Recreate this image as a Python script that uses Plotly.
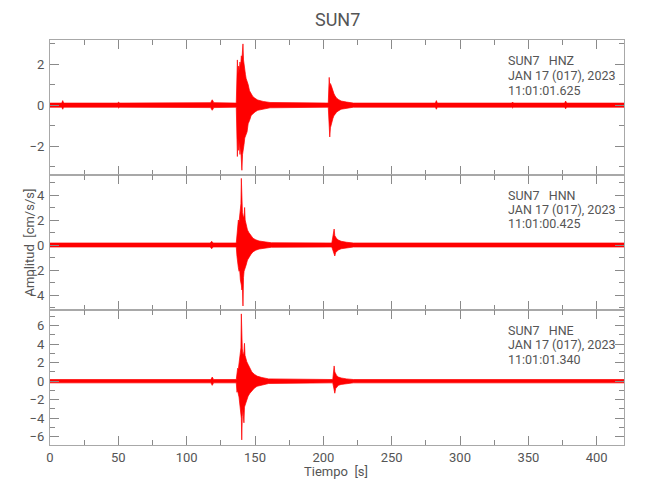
import plotly.graph_objects as go
from plotly.subplots import make_subplots

# ---------------- data (envelopes) ----------------
STATION = "SUN7"
CHANNELS = ["HNZ", "HNN", "HNE"]
DATE_TXT = "JAN 17 (017), 2023"
START_TIMES = ["11:01:01.625", "11:01:00.425", "11:01:01.340"]

T_HNZ = [0, 8.6, 9.3, 10.0, 49.5, 50.2, 51, 117.5, 118.7, 119.9, 136.3, 136.8, 137.1,
         137.5, 138.0, 138.5, 139.0, 139.5, 140.0, 140.4, 140.9, 141.2, 141.6, 142.0,
         142.5, 143.0, 143.5, 144.2, 145.0, 146.0, 147.2, 148.4, 150, 152, 156, 161,
         203.6, 204.0, 204.3, 204.7, 205.2, 205.8, 206.4, 207.0, 207.8, 208.6, 209.6,
         211, 213, 217, 222, 282.0, 282.7, 283.4, 337.8, 338.5, 339.2, 376.6, 377.3,
         378.0, 420]
UP_HNZ = [0.1, 0.1, 0.22, 0.1, 0.1, 0.15, 0.1, 0.12, 0.26, 0.12, 0.1, 1.0, 2.2,
          1.5, 1.9, 1.7, 2.1, 1.9, 2.4, 2.2, 2.6, 2.98, 2.2, 1.9,
          1.7, 1.5, 1.3, 1.2, 1.0, 0.7, 0.55, 0.42, 0.33, 0.25, 0.18, 0.13,
          0.1, 0.8, 1.35, 0.9, 1.05, 0.95, 0.8, 0.7, 0.55, 0.45, 0.35,
          0.28, 0.2, 0.15, 0.1, 0.1, 0.22, 0.1, 0.1, 0.15, 0.1, 0.1, 0.2,
          0.1, 0.1]
LO_HNZ = [-0.1, -0.1, -0.2, -0.1, -0.1, -0.14, -0.1, -0.12, -0.25, -0.12, -0.1, -1.2, -2.5,
          -1.6, -2.2, -1.8, -2.4, -2.0, -2.6, -3.17, -2.4, -2.2, -2.1, -1.9,
          -1.6, -1.5, -1.4, -1.3, -0.9, -0.75, -0.5, -0.42, -0.33, -0.25, -0.18, -0.13,
          -0.1, -0.7, -0.9, -1.55, -1.1, -0.95, -0.8, -0.65, -0.5, -0.45, -0.35,
          -0.28, -0.2, -0.15, -0.1, -0.1, -0.2, -0.1, -0.1, -0.14, -0.1, -0.1, -0.18,
          -0.1, -0.1]

T_HNN = [0, 117.3, 118.3, 119.3, 136.3, 136.8, 137.3, 137.8, 138.3, 138.8, 139.3, 139.7,
         140.0, 140.4, 140.8, 141.2, 141.6, 142.0, 142.4, 142.8, 143.5, 144.5, 145.5,
         147, 148.5, 150.5, 153, 158, 162, 206.2, 207.0, 207.9, 208.4, 209.0, 209.8,
         211, 213, 217, 222, 420]
UP_HNN = [0.16, 0.16, 0.3, 0.16, 0.16, 1.0, 1.6, 2.0, 1.8, 2.3, 2.6, 3.3,
          5.33, 3.2, 2.6, 2.4, 2.2, 2.3, 3.0, 2.0, 1.6, 1.2, 1.0,
          0.75, 0.55, 0.42, 0.32, 0.24, 0.18, 0.16, 0.7, 1.28, 0.75, 0.6, 0.5,
          0.4, 0.3, 0.22, 0.16, 0.16]
LO_HNN = [-0.16, -0.16, -0.3, -0.16, -0.16, -0.9, -1.5, -1.8, -2.1, -2.0, -2.8, -3.0,
          -3.2, -3.6, -3.4, -4.88, -2.6, -2.1, -2.0, -1.8, -1.6, -1.2, -1.0,
          -0.75, -0.55, -0.42, -0.32, -0.24, -0.18, -0.16, -0.5, -0.7, -0.88, -0.6,
          -0.5, -0.4, -0.3, -0.22, -0.16, -0.16]

T_HNE = [0, 117.7, 118.7, 119.7, 136.3, 136.8, 137.3, 137.8, 138.3, 138.8, 139.3, 139.7,
         140.0, 140.3, 140.7, 141.1, 141.5, 141.9, 142.3, 142.7, 143.3, 144.0, 145.0,
         146.3, 147.7, 149.5, 151.5, 155, 160, 206.9, 207.4, 207.9, 208.4, 209.0, 209.8,
         211, 213, 217, 222, 420]
UP_HNE = [0.18, 0.18, 0.45, 0.18, 0.18, 1.0, 1.4, 1.3, 1.8, 2.2, 3.0, 3.6,
          7.28, 4.5, 3.5, 3.0, 2.8, 3.2, 4.1, 2.8, 2.4, 2.1, 1.8,
          1.4, 1.0, 0.75, 0.55, 0.4, 0.25, 0.18, 0.9, 1.65, 1.0, 0.8, 0.6,
          0.45, 0.35, 0.25, 0.18, 0.18]
LO_HNE = [-0.18, -0.18, -0.45, -0.18, -0.18, -1.2, -1.0, -1.4, -1.7, -2.3, -3.0, -3.4,
          -4.0, -6.35, -3.8, -3.0, -3.6, -4.5, -2.8, -2.5, -2.2, -2.0, -1.6,
          -1.3, -1.0, -0.75, -0.55, -0.4, -0.25, -0.18, -0.6, -0.9, -1.3, -0.8,
          -0.6, -0.45, -0.35, -0.25, -0.18, -0.18]

Y_RANGES = [[-3.4, 3.17], [-5.2, 5.6], [-6.9, 7.7]]
X_RANGE = [0, 420]

# ---------------- figure ----------------
FONT = "Roboto, Liberation Sans, sans-serif"
TXT = "#555555"
AX = "#a8a8a8"
TICK = "#8a8a8a"
RED = "#ff0000"

fig = make_subplots(rows=3, cols=1, shared_xaxes=True, vertical_spacing=0)

series = [(T_HNZ, UP_HNZ, LO_HNZ), (T_HNN, UP_HNN, LO_HNN), (T_HNE, UP_HNE, LO_HNE)]
for i, (t, up, lo) in enumerate(series):
    xs = list(t) + list(t)[::-1]
    ys = list(up) + list(lo)[::-1]
    fig.add_trace(go.Scatter(x=xs, y=ys, mode="lines", fill="toself",
                             fillcolor=RED, line=dict(color=RED, width=0.7),
                             hoverinfo="skip", showlegend=False), row=i + 1, col=1)

# page body has an 8 px margin; figure coordinates = window coordinates - 8
OFF = 8
W, H = 634, 484
L, R, T, B = 41.5, 18, 32, 47
fig.update_layout(
    width=W, height=H,
    margin=dict(l=L, r=R, t=T, b=B, autoexpand=False),
    paper_bgcolor="white", plot_bgcolor="white",
    font=dict(family=FONT, color=TXT, size=13),
    showlegend=False,
)

for i in range(3):
    fig.update_yaxes(
        range=Y_RANGES[i], dtick=2, tick0=0, automargin=False,
        showline=True, linecolor=AX, linewidth=1.2, mirror="allticks",
        ticks="inside", ticklen=9, tickcolor=TICK, tickwidth=1.4,
        minor=dict(dtick=1, ticks="inside", ticklen=5, tickcolor=TICK, tickwidth=1.4),
        showgrid=False, zeroline=False, ticklabelstandoff=2,
        tickfont=dict(family=FONT, size=13, color=TXT),
        row=i + 1, col=1)
    fig.update_xaxes(
        range=X_RANGE, dtick=50, tick0=0, automargin=False,
        showline=True, linecolor=AX, linewidth=1.2, mirror="allticks",
        ticks="inside", ticklen=9, tickcolor=TICK, tickwidth=1.4,
        minor=dict(dtick=25, ticks="inside", ticklen=5, tickcolor=TICK, tickwidth=1.4),
        showgrid=False, zeroline=False,
        showticklabels=(i == 2),
        tickfont=dict(family=FONT, size=13, color=TXT),
        row=i + 1, col=1)

plot_h = H - T - B
plot_w = W - L - R


def py(ypx):
    return (H - B - (ypx - OFF)) / plot_h


def px(xpx):
    return ((xpx - OFF) - L) / plot_w


ann = []
ann.append(dict(text=STATION, x=px(337), y=py(19), xref="paper", yref="paper",
                showarrow=False, font=dict(family=FONT, size=18, color=TXT),
                xanchor="center", yanchor="middle"))
label_rows = [[61, 75.5, 90], [195, 209.5, 224], [330, 344.5, 359]]
for i in range(3):
    lines = [f"{STATION}   {CHANNELS[i]}", DATE_TXT, START_TIMES[i]]
    for k, line in enumerate(lines):
        ann.append(dict(text=line, x=px(506), y=py(label_rows[i][k]), xref="paper",
                        yref="paper", showarrow=False, xanchor="left", yanchor="middle",
                        font=dict(family=FONT, size=12.5, color=TXT)))
ann.append(dict(text="Amplitud  [cm/s/s]", x=px(28), y=py(243), xref="paper", yref="paper",
                textangle=-90, showarrow=False, xanchor="center", yanchor="middle",
                font=dict(family=FONT, size=13, color=TXT)))
ann.append(dict(text="Tiempo  [s]", x=px(336), y=py(471), xref="paper", yref="paper",
                showarrow=False, xanchor="center", yanchor="middle",
                font=dict(family=FONT, size=13, color=TXT)))
fig.update_layout(annotations=ann)

fig.write_html("out.html")
